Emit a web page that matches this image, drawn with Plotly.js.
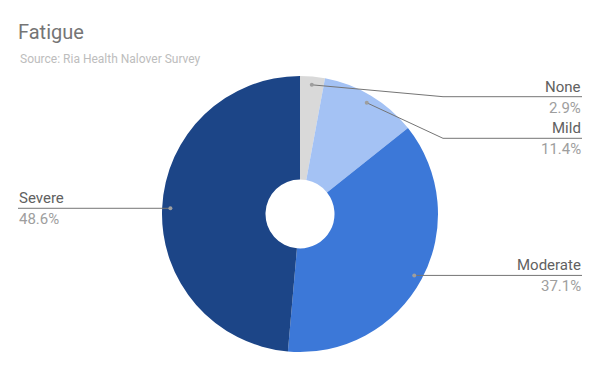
<!DOCTYPE html>
<html>
<head>
<meta charset="utf-8">
<script src="https://cdn.plot.ly/plotly-3.0.1.min.js"></script>
<style>html,body{margin:0;padding:0;background:#fff}#chart{width:600px;height:371px}</style>
</head>
<body>
<div id="chart"></div>
<script>
const categories = ["None", "Mild", "Moderate", "Severe"];
const values = [2.9, 11.4, 37.1, 48.6];
const percentLabels = ["2.9%", "11.4%", "37.1%", "48.6%"];
const sliceColors = ["#d9d9d9", "#a4c2f4", "#3c78d8", "#1c4587"];
const chartTitle = "Fatigue";
const chartSubtitle = "Source: Ria Health Nalover Survey";

const W = 600, H = 371;
const cx = 300, cy = 214, R = 138;
const px = x => x / W;
const py = y => 1 - y / H;

const total = values.reduce((a, b) => a + b, 0);
let cum = 0;
const items = values.map((v, i) => {
  const mid = (cum + v / 2) / total * 2 * Math.PI;
  cum += v;
  const s = Math.sin(mid), c = Math.cos(mid);
  return {i, side: s >= 0 ? 1 : -1, dx: cx + 0.94 * R * s, dy: cy - 0.94 * R * c};
});

const shapes = [], annotations = [];
[1, -1].forEach(side => {
  const group = items.filter(it => it.side === side).sort((a, b) => a.dy - b.dy);
  let prev = -Infinity;
  group.forEach(it => {
    it.ly = Math.max(it.dy, prev + 41.6, 96.7);
    prev = it.ly;
  });
});

items.forEach(it => {
  const elbowX = cx + it.side * 143;
  const endX = it.side > 0 ? 582 : 18;
  shapes.push({
    type: "path", xref: "paper", yref: "paper", layer: "above",
    path: `M ${px(it.dx)} ${py(it.dy)} L ${px(elbowX)} ${py(it.ly)} L ${px(endX)} ${py(it.ly)}`,
    line: {color: "#757575", width: 1}
  });
  const r = 2;
  shapes.push({
    type: "circle", xref: "paper", yref: "paper", layer: "above",
    x0: px(it.dx - r), x1: px(it.dx + r), y0: py(it.dy + r), y1: py(it.dy - r),
    fillcolor: "#9e9e9e", line: {width: 0}
  });
  const xa = it.side > 0 ? "right" : "left";
  annotations.push({
    xref: "paper", yref: "paper", x: px(endX), y: py(it.ly), xanchor: xa, yanchor: "bottom",
    text: categories[it.i], showarrow: false, yshift: 0, borderpad: 0,
    font: {family: "Roboto, sans-serif", size: 15, color: "#616161"}
  });
  annotations.push({
    xref: "paper", yref: "paper", x: px(endX), y: py(it.ly), xanchor: xa, yanchor: "top",
    text: percentLabels[it.i], showarrow: false, yshift: -1, borderpad: 0,
    font: {family: "Roboto, sans-serif", size: 15, color: "#9e9e9e"}
  });
});

annotations.push({
  xref: "paper", yref: "paper", x: px(18), y: py(50), xanchor: "left", yanchor: "top",
  text: chartSubtitle, showarrow: false,
  font: {family: "Roboto, sans-serif", size: 12, color: "#bdbdbd"}
});

const data = [{
  type: "pie",
  labels: categories,
  values: values,
  sort: false,
  direction: "clockwise",
  rotation: 0,
  hole: 0.25,
  marker: {colors: sliceColors, line: {width: 0}},
  textinfo: "none",
  hoverinfo: "label+percent",
  domain: {x: [(cx - R) / W, (cx + R) / W], y: [py(cy + R), py(cy - R)]}
}];

const layout = {
  width: W, height: H,
  margin: {l: 0, r: 0, t: 0, b: 0},
  paper_bgcolor: "#ffffff",
  showlegend: false,
  title: {
    text: chartTitle, xref: "container", yref: "container",
    x: px(18), xanchor: "left", y: py(25), yanchor: "top",
    font: {family: "Roboto, sans-serif", size: 20, color: "#757575"}
  },
  shapes: shapes,
  annotations: annotations
};

Plotly.newPlot("chart", data, layout, {displayModeBar: false, staticPlot: true});
</script>
</body>
</html>
